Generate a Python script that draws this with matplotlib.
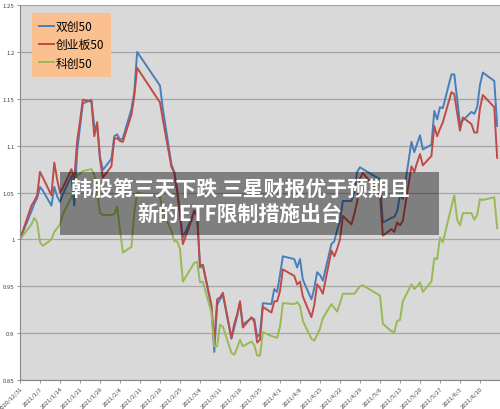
import matplotlib
matplotlib.use("Agg")
import matplotlib.pyplot as plt
from matplotlib.patches import Rectangle
import pandas as pd

plt.rcParams['font.family'] = ['Noto Sans CJK SC', 'DejaVu Sans']

dates = ["2020-12-31",
         "2021-01-04", "2021-01-05", "2021-01-06", "2021-01-07", "2021-01-08",
         "2021-01-11", "2021-01-12", "2021-01-13", "2021-01-14", "2021-01-15",
         "2021-01-18", "2021-01-19", "2021-01-20", "2021-01-21", "2021-01-22",
         "2021-01-25", "2021-01-26", "2021-01-27", "2021-01-28", "2021-01-29",
         "2021-02-01", "2021-02-02", "2021-02-03", "2021-02-04", "2021-02-05",
         "2021-02-08", "2021-02-09", "2021-02-10", "2021-02-18", "2021-02-19",
         "2021-02-22", "2021-02-23", "2021-02-24", "2021-02-25", "2021-02-26",
         "2021-03-01", "2021-03-02", "2021-03-03", "2021-03-04", "2021-03-05",
         "2021-03-08", "2021-03-09", "2021-03-10", "2021-03-11", "2021-03-12",
         "2021-03-15", "2021-03-16", "2021-03-17", "2021-03-18", "2021-03-19",
         "2021-03-22", "2021-03-23", "2021-03-24", "2021-03-25", "2021-03-26",
         "2021-03-29", "2021-03-30", "2021-03-31", "2021-04-01", "2021-04-02",
         "2021-04-06", "2021-04-07", "2021-04-08", "2021-04-09",
         "2021-04-12", "2021-04-13", "2021-04-14", "2021-04-15", "2021-04-16",
         "2021-04-19", "2021-04-20", "2021-04-21", "2021-04-22", "2021-04-23",
         "2021-04-26", "2021-04-27", "2021-04-28", "2021-04-29", "2021-04-30",
         "2021-05-06", "2021-05-07",
         "2021-05-10", "2021-05-11", "2021-05-12", "2021-05-13", "2021-05-14",
         "2021-05-17", "2021-05-18", "2021-05-19", "2021-05-20", "2021-05-21",
         "2021-05-24", "2021-05-25", "2021-05-26", "2021-05-27", "2021-05-28",
         "2021-05-31", "2021-06-01", "2021-06-02", "2021-06-03", "2021-06-04",
         "2021-06-07", "2021-06-08", "2021-06-09", "2021-06-10", "2021-06-11",
         "2021-06-15", "2021-06-16"]

shuangchuang50 = [1.000,
    1.030, 1.038, 1.044, 1.056, 1.052,
    1.036, 1.056, 1.046, 1.040, 1.048,
    1.068, 1.036, 1.094, 1.120, 1.145,
    1.149, 1.120, 1.121, 1.088, 1.074,
    1.086, 1.110, 1.112, 1.106, 1.108,
    1.139, 1.157, 1.200, 1.164, 1.139,
    1.080, 1.072, 1.052, 1.027, 1.002,
    1.022, 1.031, 1.027, 0.970, 0.972,
    0.928, 0.880, 0.930, 0.936, 0.941,
    0.894, 0.906, 0.918, 0.932, 0.909,
    0.916, 0.915, 0.896, 0.899, 0.932,
    0.931, 0.947, 0.944, 0.962, 0.982,
    0.979, 0.970, 0.979, 0.957,
    0.936, 0.948, 0.965, 0.962, 0.956,
    0.995, 0.998, 1.010, 1.020, 1.041,
    1.041, 1.050, 1.072, 1.077, 1.075,
    1.064, 1.018,
    1.023, 1.024, 1.030, 1.047, 1.043,
    1.104, 1.093, 1.102, 1.111, 1.096,
    1.101, 1.137, 1.128, 1.141, 1.140,
    1.176, 1.176, 1.150, 1.123, 1.127,
    1.136, 1.134, 1.141, 1.165, 1.178,
    1.169, 1.121]

chuangyeban50 = [1.000,
    1.036, 1.041, 1.047, 1.072, 1.066,
    1.047, 1.082, 1.064, 1.050, 1.055,
    1.075, 1.064, 1.105, 1.126, 1.149,
    1.147, 1.110, 1.125, 1.085, 1.066,
    1.078, 1.107, 1.108, 1.105, 1.104,
    1.133, 1.153, 1.183, 1.146, 1.128,
    1.077, 1.071, 1.052, 1.027, 0.995,
    1.020, 1.030, 1.025, 0.972, 0.973,
    0.930, 0.890, 0.936, 0.938, 0.943,
    0.895, 0.910, 0.920, 0.934, 0.906,
    0.917, 0.912, 0.890, 0.893, 0.928,
    0.922, 0.934, 0.934, 0.945, 0.968,
    0.961, 0.952, 0.955, 0.939,
    0.917, 0.930, 0.952, 0.948, 0.942,
    0.988, 0.982, 0.990, 1.000, 1.025,
    1.016, 1.027, 1.040, 1.065, 1.071,
    1.048, 1.004,
    1.011, 1.008, 1.018, 1.015, 1.020,
    1.078, 1.072, 1.082, 1.091, 1.079,
    1.089, 1.121, 1.110, 1.118, 1.125,
    1.157, 1.155, 1.135, 1.116, 1.130,
    1.123, 1.114, 1.114, 1.140, 1.154,
    1.141, 1.087]

kechuang50 = [1.000,
    1.016, 1.023, 1.018, 0.997, 0.993,
    1.000, 1.008, 1.012, 1.016, 1.027,
    1.045, 1.058, 1.068, 1.070, 1.073,
    1.075, 1.069, 1.050, 1.028, 1.026,
    1.026, 1.027, 1.035, 1.010, 0.986,
    0.992, 1.028, 1.050, 1.045, 1.030,
    1.009, 0.998, 0.998, 0.990, 0.955,
    0.970, 0.975, 0.976, 0.954, 0.955,
    0.922, 0.886, 0.886, 0.909, 0.907,
    0.879, 0.877, 0.884, 0.893, 0.886,
    0.891, 0.887, 0.876, 0.876, 0.901,
    0.897, 0.896, 0.895, 0.907, 0.932,
    0.931, 0.933, 0.929, 0.913,
    0.894, 0.892, 0.898, 0.905, 0.916,
    0.931, 0.927, 0.923, 0.932, 0.942,
    0.942, 0.942, 0.946, 0.950, 0.951,
    0.940, 0.910,
    0.902, 0.901, 0.913, 0.914, 0.934,
    0.952, 0.947, 0.950, 0.954, 0.944,
    0.955, 0.980, 0.979, 1.002, 0.997,
    1.035, 1.047, 1.021, 1.015, 1.028,
    1.028, 1.021, 1.026, 1.043, 1.042,
    1.045, 1.012]

series_names = ["双创50", "创业板50", "科创50"]
series_colors = ["#4a7ebb", "#be4b48", "#98b954"]

tick_dates = ["2020-12-31", "2021-01-07", "2021-01-14", "2021-01-21", "2021-01-28",
              "2021-02-04", "2021-02-11", "2021-02-18", "2021-02-25", "2021-03-04",
              "2021-03-11", "2021-03-18", "2021-03-25", "2021-04-01", "2021-04-08",
              "2021-04-15", "2021-04-22", "2021-04-29", "2021-05-06", "2021-05-13",
              "2021-05-20", "2021-05-27", "2021-06-03", "2021-06-10"]
tick_labels = ["2020/12/31", "2021/1/7", "2021/1/14", "2021/1/21", "2021/1/28",
               "2021/2/4", "2021/2/11", "2021/2/18", "2021/2/25", "2021/3/4",
               "2021/3/11", "2021/3/18", "2021/3/25", "2021/4/1", "2021/4/8",
               "2021/4/15", "2021/4/22", "2021/4/29", "2021/5/6", "2021/5/13",
               "2021/5/20", "2021/5/27", "2021/6/3", "2021/6/10"]
y_ticks = [0.85, 0.9, 0.95, 1.0, 1.05, 1.1, 1.15, 1.2, 1.25]
y_labels = ["0.85", "0.9", "0.95", "1", "1.05", "1.1", "1.15", "1.2", "1.25"]

title = "韩股第三天下跌 三星财报优于预期且\n新的ETF限制措施出台"

x = pd.to_datetime(dates)

fig = plt.figure(figsize=(5, 4.1), dpi=100)
ax = fig.add_axes([0.04, 0.0707, 0.96, 0.9146])
ax.set_facecolor("#d9d9d9")

for vals, name, col in zip([shuangchuang50, chuangyeban50, kechuang50], series_names, series_colors):
    ax.plot(x, vals, color=col, lw=1.4, label=name)

ax.set_ylim(0.85, 1.25)
ax.set_xlim(pd.Timestamp("2020-12-31"), pd.Timestamp("2020-12-31") + pd.Timedelta(days=168))
ax.set_yticks(y_ticks)
ax.set_yticklabels(y_labels)
ax.set_xticks(pd.to_datetime(tick_dates))
ax.set_xticklabels(tick_labels, rotation=45, ha="right", rotation_mode="anchor")
ax.tick_params(axis="both", labelsize=4.3, length=2.5, width=0.6, pad=1.5,
               colors="#868686", labelcolor="#404040")
ax.grid(axis="y", color="#a6a6a6", lw=0.9)
ax.set_axisbelow(True)
for s in ["top", "right"]:
    ax.spines[s].set_visible(False)
for s in ["left", "bottom"]:
    ax.spines[s].set_color("#868686")
    ax.spines[s].set_linewidth(0.8)

leg = ax.legend(loc="upper left", bbox_to_anchor=(0.024, 0.979), borderaxespad=0,
                frameon=True, fancybox=False, fontsize=8.5, handlelength=1.3,
                handletextpad=0.15, labelspacing=0.45, borderpad=0.6)
leg.get_frame().set_facecolor("#fac090")
leg.get_frame().set_edgecolor("none")
leg.get_frame().set_alpha(1)

# dark translucent banner with the headline
fig.patches.append(Rectangle((60 / 500, 1 - 236 / 410), 379 / 500, 63 / 410,
                             transform=fig.transFigure, facecolor="black",
                             alpha=0.41, edgecolor="none", zorder=5))
fig.text(240 / 500, 1 - 202 / 410, title, color="white", fontsize=15,
         fontweight="bold", ha="center", va="center", multialignment="center",
         linespacing=1.2, zorder=6)

fig.savefig("out.png", dpi=100)
